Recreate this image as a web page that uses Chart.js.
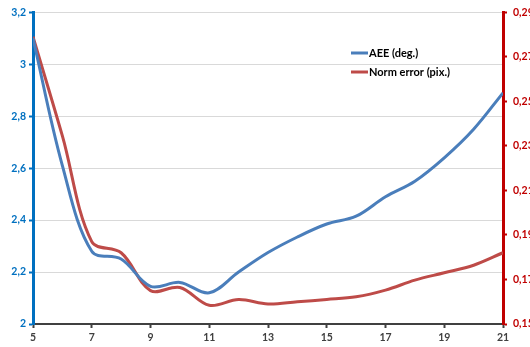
<!DOCTYPE html>
<html>
<head>
<meta charset="utf-8">
<script src="https://cdn.jsdelivr.net/npm/chart.js@4.4.0/dist/chart.umd.min.js"></script>
<style>
html,body{margin:0;padding:0;background:#fff;}
#wrap{width:530px;height:347px;position:relative;}
</style>
</head>
<body>
<div id="wrap"><canvas id="c" width="530" height="347"></canvas></div>
<script>
const xValues = [5,6,7,8,9,10,11,12,13,14,15,16,17,18,19,20,21];
const aeeValues = [3.10,2.61,2.28,2.25,2.145,2.16,2.12,2.20,2.275,2.335,2.385,2.415,2.49,2.55,2.64,2.75,2.89];
const normValues = [0.279,0.2345,0.187,0.182,0.165,0.1664,0.1584,0.161,0.159,0.160,0.161,0.1622,0.1652,0.1697,0.173,0.1764,0.182];
const seriesNames = ['AEE (deg.)','Norm error (pix.)'];
const xTicks = [5,7,9,11,13,15,17,19,21];
const leftTicks = [2,2.2,2.4,2.6,2.8,3,3.2];
const leftTickLabels = ['2','2,2','2,4','2,6','2,8','3','3,2'];
const rightTicks = [0.15,0.17,0.19,0.21,0.23,0.25,0.27,0.29];
const rightTickLabels = ['0,15','0,17','0,19','0,21','0,23','0,25','0,27','0,29'];

const BLUE = '#4a7ebb', RED = '#be4b48';
const FONT = 'Lato, "Open Sans", sans-serif';

const legendPlugin = {
  id: 'inLegend',
  afterDraw(chart) {
    const ctx = chart.ctx;
    ctx.save();
    ctx.font = 'bold 11px ' + FONT;
    ctx.fillStyle = '#000';
    ctx.textBaseline = 'middle';
    chart.data.datasets.forEach((ds, i) => {
      const y = 53 + i * 19;
      ctx.strokeStyle = ds.borderColor;
      ctx.lineWidth = 3;
      ctx.beginPath();
      ctx.moveTo(351, y);
      ctx.lineTo(368, y);
      ctx.stroke();
      ctx.fillText(ds.label, 369, y);
    });
    ctx.restore();
  }
};

new Chart(document.getElementById('c'), {
  type: 'line',
  data: {
    datasets: [
      { label: seriesNames[0], data: xValues.map((x,i)=>({x:x,y:aeeValues[i]})), borderColor: BLUE, borderWidth: 3, pointRadius: 0, tension: 0.35, yAxisID: 'yL', fill: false },
      { label: seriesNames[1], data: xValues.map((x,i)=>({x:x,y:normValues[i]})), borderColor: RED, borderWidth: 3, pointRadius: 0, tension: 0.35, yAxisID: 'yR', fill: false }
    ]
  },
  options: {
    responsive: false,
    animation: false,
    layout: { padding: { top: 11, left: 0, right: 0, bottom: 0 } },
    plugins: { legend: { display: false }, tooltip: { enabled: false } },
    scales: {
      x: {
        type: 'linear', min: 5, max: 21,
        afterBuildTicks: s => { s.ticks = xTicks.map(v => ({value: v})); },
        afterFit: s => { s.height = 23; },
        grid: { drawOnChartArea: false, tickLength: 4, tickColor: '#404040', tickWidth: 2 },
        border: { color: '#404040', width: 2 },
        ticks: { font: { family: FONT, size: 10.5, weight: 'bold' }, color: '#404040', padding: 3, maxRotation: 0, callback: v => String(v) }
      },
      yL: {
        type: 'linear', position: 'left', min: 2, max: 3.2,
        afterBuildTicks: s => { s.ticks = leftTicks.map(v => ({value: v})); },
        afterFit: s => { s.width = 33; },
        grid: { color: '#d9d9d9', lineWidth: 1, tickLength: 4, tickColor: '#0070c0', tickWidth: 2 },
        border: { color: '#0070c0', width: 3 },
        ticks: { font: { family: FONT, size: 10.5, weight: 'bold' }, color: '#0070c0', padding: 3,
          callback: (v) => { const i = leftTicks.findIndex(t => Math.abs(t - v) < 1e-9); return i >= 0 ? leftTickLabels[i] : ''; } }
      },
      yR: {
        type: 'linear', position: 'right', min: 0.15, max: 0.29,
        afterBuildTicks: s => { s.ticks = rightTicks.map(v => ({value: v})); },
        afterFit: s => { s.width = 27; },
        grid: { drawOnChartArea: false, tickLength: 4, tickColor: '#c00000', tickWidth: 2 },
        border: { color: '#c00000', width: 3 },
        ticks: { font: { family: FONT, size: 10.5, weight: 'bold' }, color: '#c00000', padding: 6,
          callback: (v) => { const i = rightTicks.findIndex(t => Math.abs(t - v) < 1e-9); return i >= 0 ? rightTickLabels[i] : ''; } }
      }
    }
  },
  plugins: [legendPlugin]
});
</script>
</body>
</html>
